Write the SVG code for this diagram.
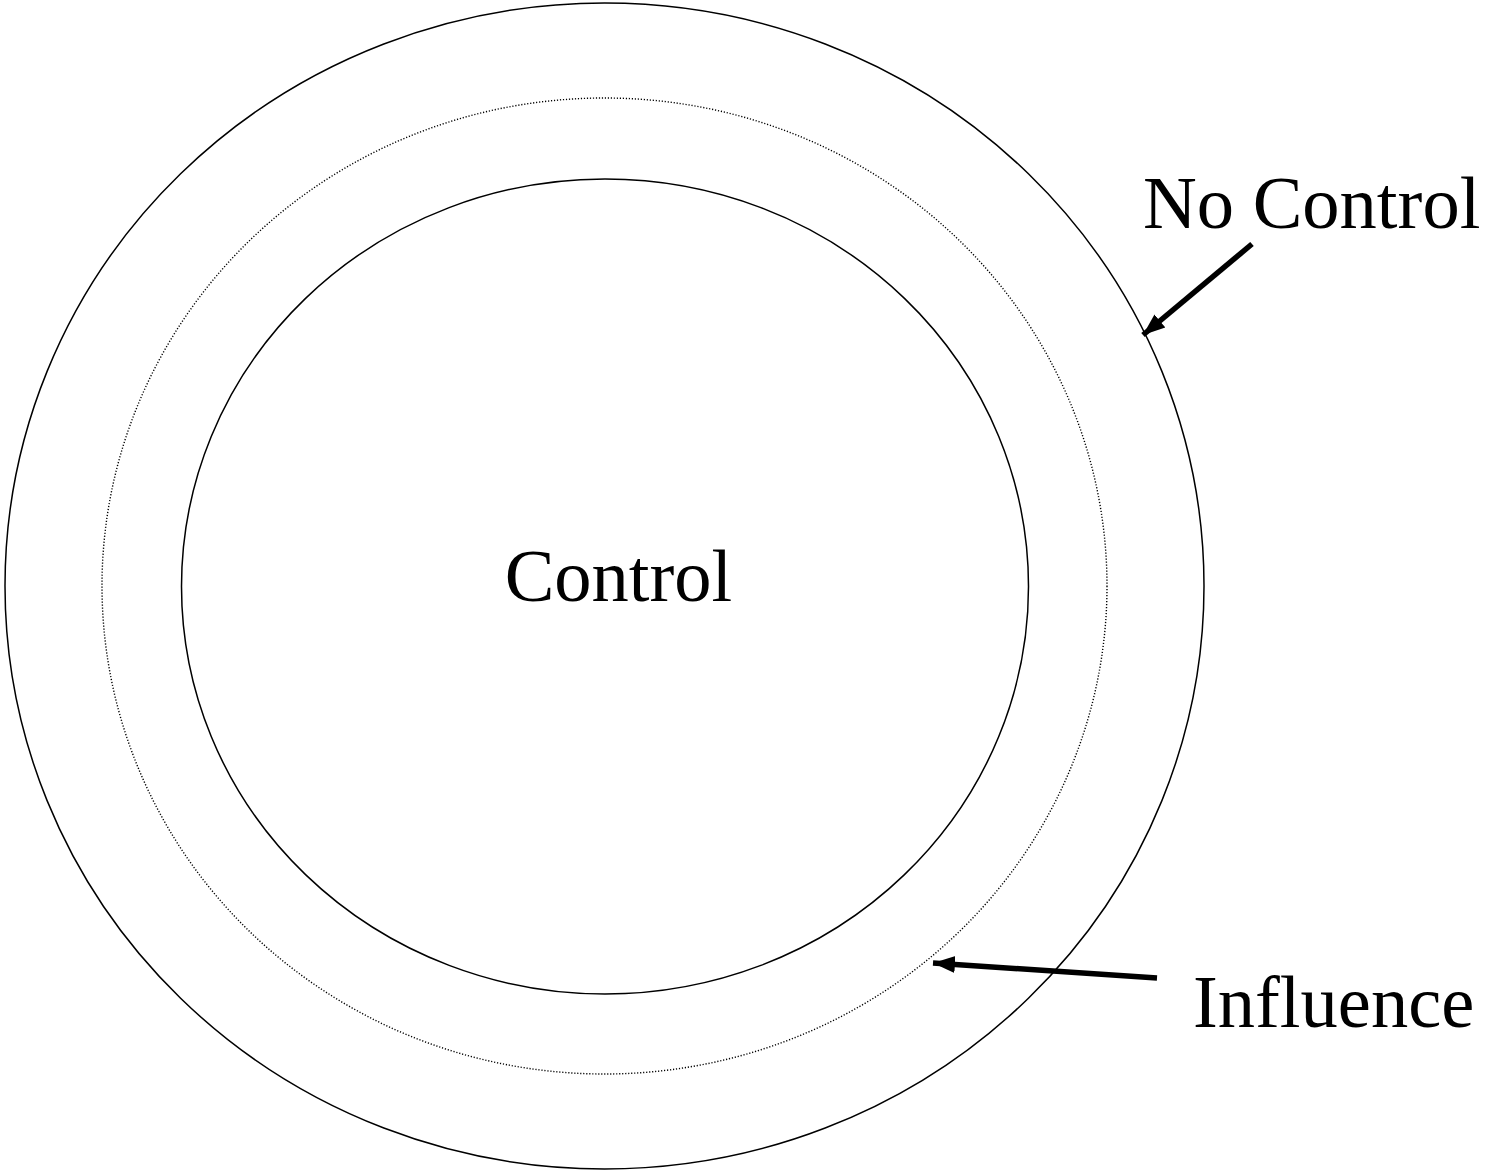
<svg xmlns="http://www.w3.org/2000/svg" width="1489" height="1171" viewBox="0 0 1489 1171">
  <style>
    .ring { fill: none; stroke: #000; stroke-width: 1.5; }
    .dotted { fill: none; stroke: #000; stroke-width: 1.4; stroke-dasharray: 1.2 1.8; }
    .label { font-family: "Liberation Serif", "Times New Roman", serif; font-size: 74.5px; fill: #000; }
    .pointer { stroke: #000; stroke-width: 5.5; fill: none; }
  </style>
  <defs>
    <marker id="head" markerUnits="userSpaceOnUse" markerWidth="24" markerHeight="20" refX="22" refY="10" orient="auto">
      <path d="M0,1.5 L22,10 L0,18.5 Z" fill="#000"/>
    </marker>
  </defs>
  <rect width="1489" height="1171" fill="#fff"/>

  <g id="no-control-ring">
    <ellipse class="ring" cx="604.5" cy="586" rx="599.5" ry="583"/>
  </g>
  <g id="influence-ring">
    <ellipse class="dotted" cx="604.5" cy="586" rx="502.5" ry="488"/>
  </g>
  <g id="control-ring">
    <ellipse class="ring" cx="605" cy="586.5" rx="423.5" ry="407.5"/>
    <text class="label" x="618.5" y="601" text-anchor="middle">Control</text>
  </g>
  <g id="no-control-label">
    <text class="label" x="1143" y="228">No Control</text>
  </g>
  <g id="influence-label">
    <text class="label" x="1193" y="1027">Influence</text>
  </g>

  <g id="connectors">
    <line class="pointer" x1="1252" y1="244" x2="1143" y2="335" marker-end="url(#head)"/>
    <line class="pointer" x1="1157" y1="978" x2="933" y2="963" marker-end="url(#head)"/>
  </g>
</svg>
